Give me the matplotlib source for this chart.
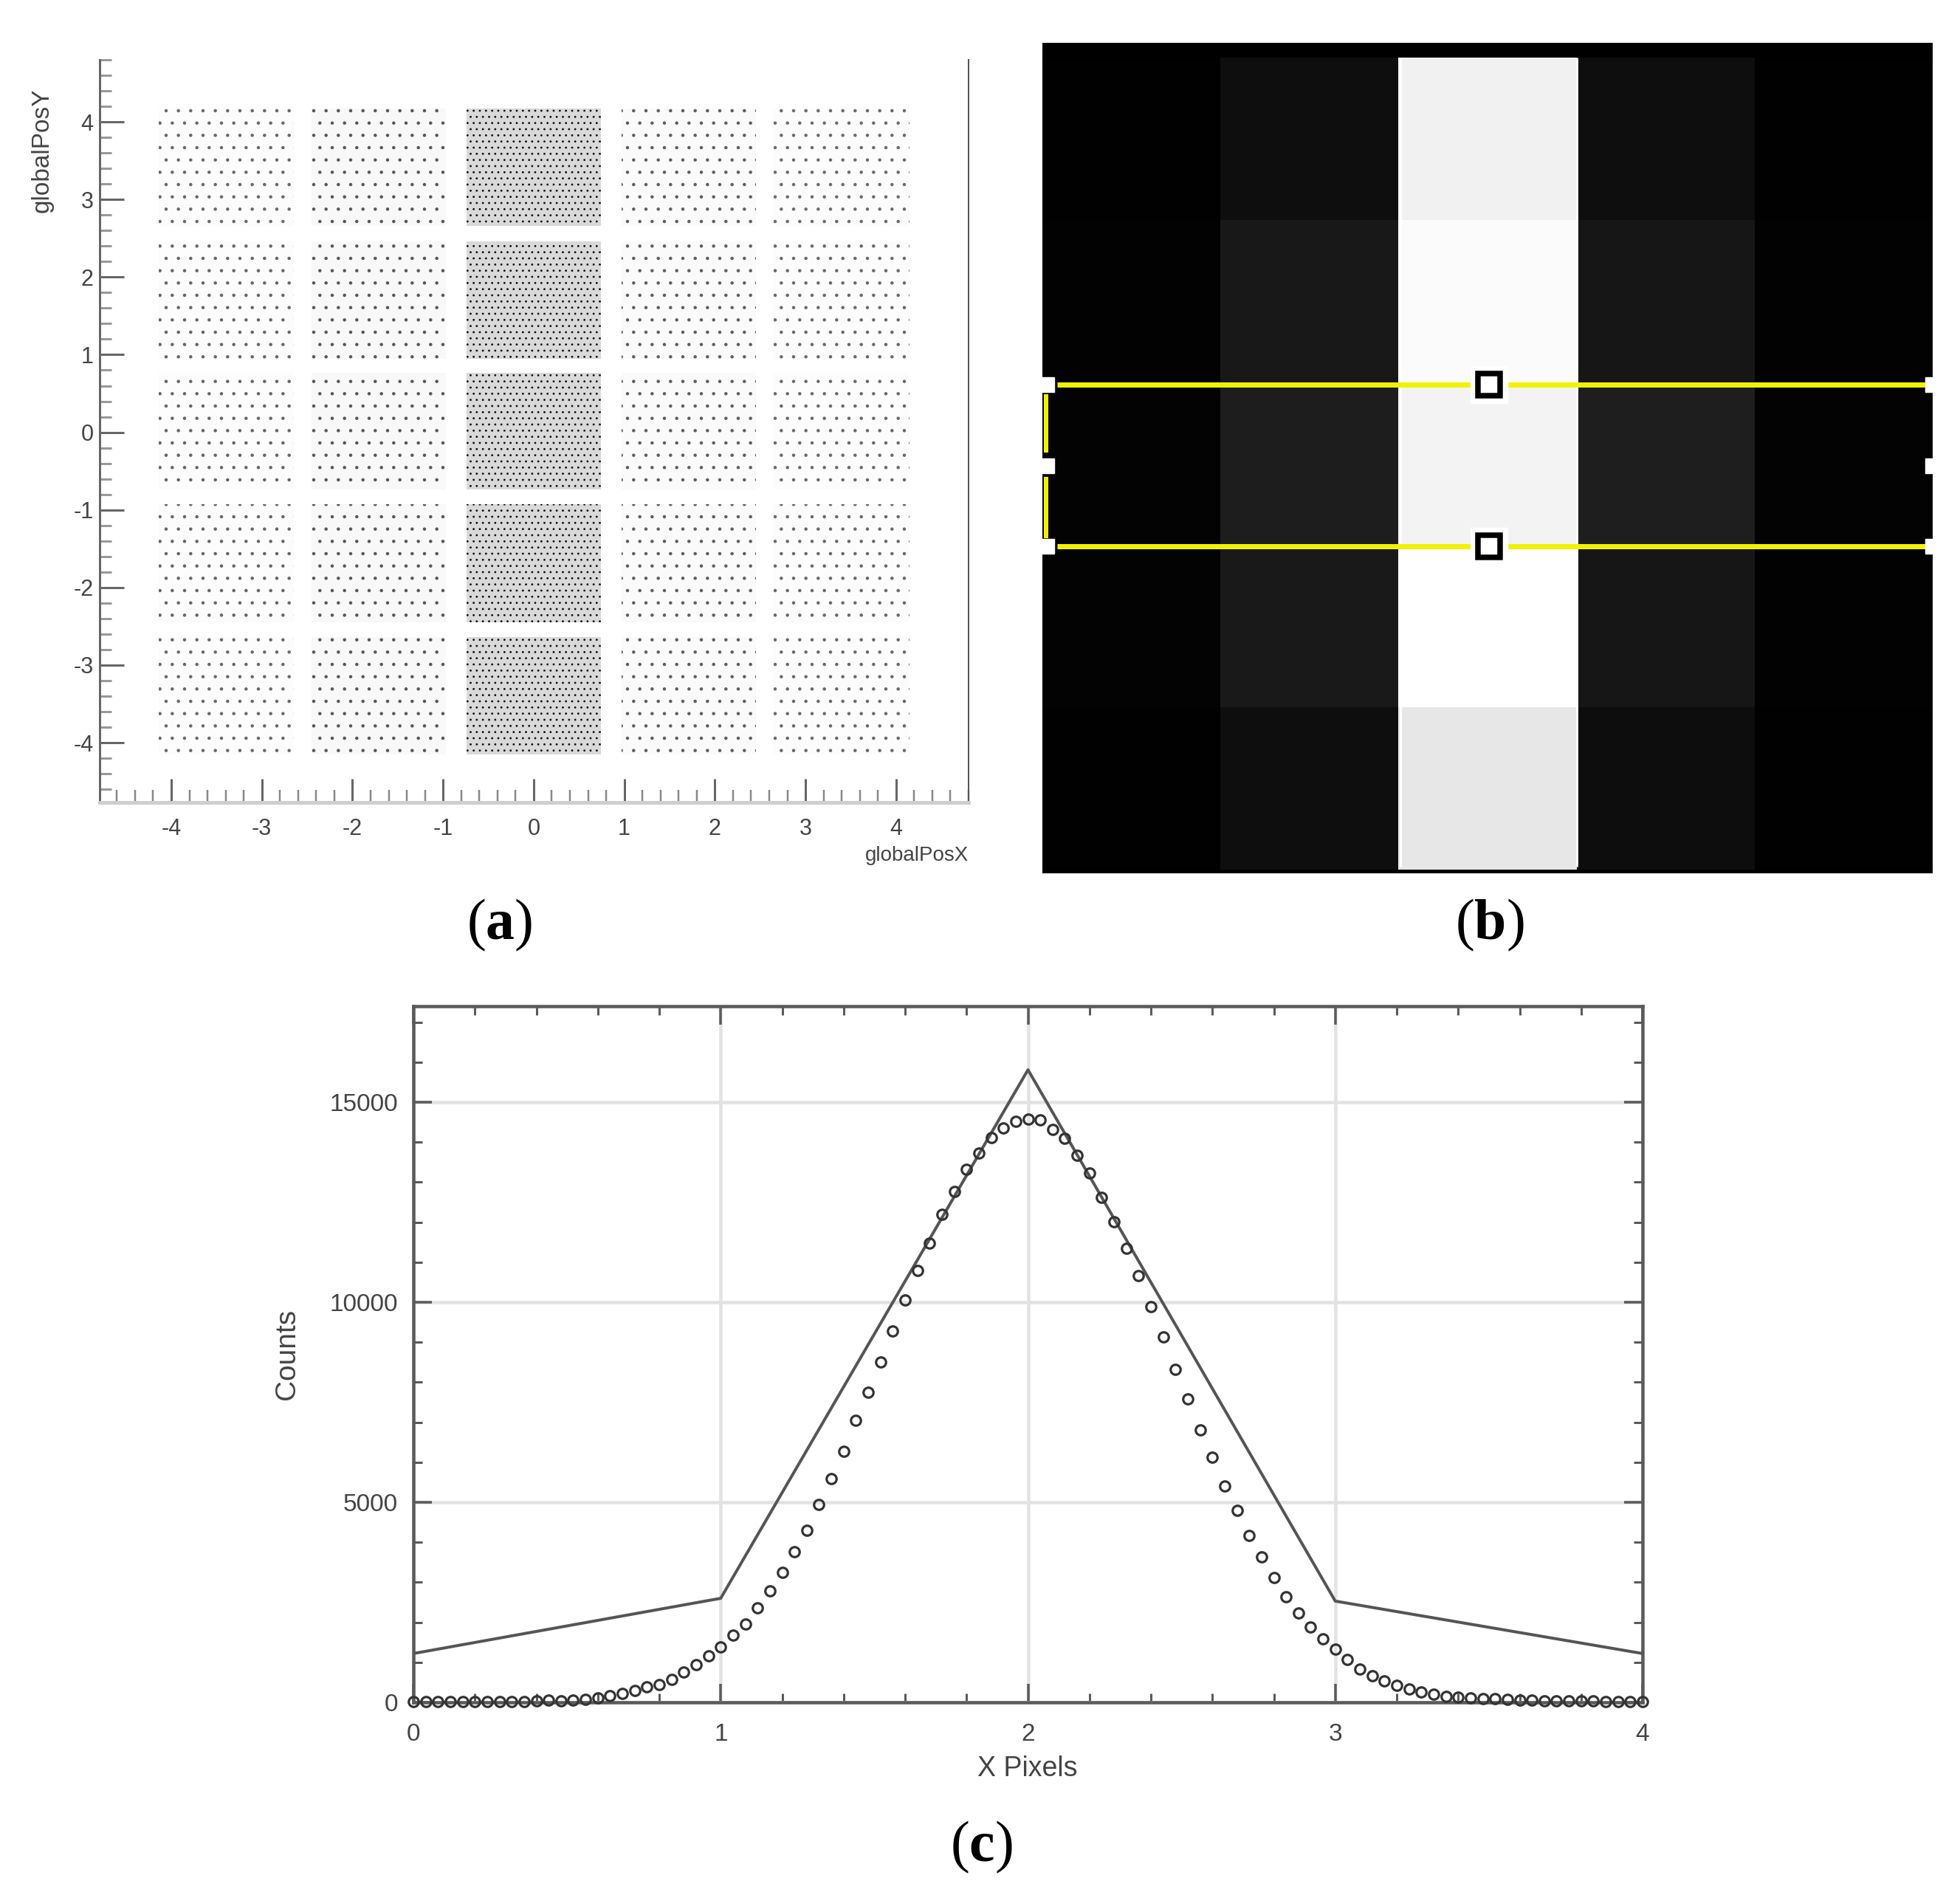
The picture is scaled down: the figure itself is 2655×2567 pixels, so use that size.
import numpy as np
import matplotlib
matplotlib.use("Agg")
import matplotlib.pyplot as plt
from matplotlib.patches import Rectangle
from matplotlib.ticker import MultipleLocator

plt.rcParams['font.family'] = ['Liberation Sans', 'DejaVu Sans']
plt.rcParams['axes.unicode_minus'] = False
plt.rcParams['mathtext.fontset'] = 'custom'
plt.rcParams['mathtext.rm'] = 'Liberation Serif'
plt.rcParams['mathtext.bf'] = 'Liberation Serif:bold'
plt.rcParams['hatch.linewidth'] = 0.8

# ---- data ----
# (a) detector tiles: edges and relative hit density per tile (top row first)
tile_x_low = [-4.14, -2.45, -0.74, 0.97, 2.65]
tile_x_high = [-2.65, -0.97, 0.74, 2.45, 4.15]
tile_y_low = [2.66, 0.95, -0.74, -2.45, -4.15]
tile_y_high = [4.17, 2.46, 0.77, -0.93, -2.64]
tile_density = [
    [0.28, 0.42, 1.00, 0.36, 0.26],
    [0.30, 0.42, 1.00, 0.36, 0.28],
    [0.30, 0.42, 1.00, 0.36, 0.28],
    [0.30, 0.42, 1.00, 0.36, 0.28],
    [0.28, 0.42, 1.00, 0.36, 0.28],
]
a_ticks = [-4, -3, -2, -1, 0, 1, 2, 3, 4]
a_ticklabels = ['-4', '-3', '-2', '-1', '0', '1', '2', '3', '4']

# (b) pixel intensities
b_pixels = [
    [1, 14, 241, 14, 1],
    [2, 24, 251, 22, 2],
    [3, 29, 243, 30, 3],
    [3, 25, 255, 22, 2],
    [1, 14, 231, 13, 1],
]
roi_rows = [2.014, 3.01]

# (c) line profile and fitted points
line_x = [0, 1, 2, 3, 4]
line_y = [1220, 2600, 15810, 2530, 1220]
pts_x = [0.00, 0.04, 0.08, 0.12, 0.16, 0.20, 0.24, 0.28, 0.32, 0.36, 0.40, 0.44, 0.48, 0.52, 0.56,
         0.60, 0.64, 0.68, 0.72, 0.76, 0.80, 0.84, 0.88, 0.92, 0.96, 1.00, 1.04, 1.08, 1.12, 1.16,
         1.20, 1.24, 1.28, 1.32, 1.36, 1.40, 1.44, 1.48, 1.52, 1.56, 1.60, 1.64, 1.68, 1.72, 1.76,
         1.80, 1.84, 1.88, 1.92, 1.96, 2.00, 2.04, 2.08, 2.12, 2.16, 2.20, 2.24, 2.28, 2.32, 2.36,
         2.40, 2.44, 2.48, 2.52, 2.56, 2.60, 2.64, 2.68, 2.72, 2.76, 2.80, 2.84, 2.88, 2.92, 2.96,
         3.00, 3.04, 3.08, 3.12, 3.16, 3.20, 3.24, 3.28, 3.32, 3.36, 3.40, 3.44, 3.48, 3.52, 3.56,
         3.60, 3.64, 3.68, 3.72, 3.76, 3.80, 3.84, 3.88, 3.92, 3.96, 4.00]
pts_y = [25, 25, 25, 25, 25, 25, 25, 25, 25, 25, 40, 50, 45, 50, 70,
         105, 165, 230, 290, 380, 445, 580, 755, 950, 1170, 1385, 1680, 1960, 2370, 2780,
         3245, 3770, 4295, 4940, 5590, 6280, 7045, 7750, 8500, 9290, 10060, 10800, 11485, 12200, 12760,
         13330, 13735, 14120, 14360, 14530, 14575, 14560, 14326, 14093, 13666, 13225, 12617, 12021, 11347, 10661,
         9883, 9132, 8329, 7578, 6813, 6127, 5415, 4793, 4171, 3627, 3122, 2642, 2228, 1878, 1593,
         1321, 1075, 829, 661, 544, 427, 337, 259, 194, 155, 130, 115, 100, 90, 70,
         60, 50, 40, 35, 30, 30, 30, 25, 25, 25, 20]
c_xticks = [0, 1, 2, 3, 4]
c_yticks = [0, 5000, 10000, 15000]

W, H = 2655, 2567
fig = plt.figure(figsize=(W / 100, H / 100), dpi=100, facecolor='white')


def box(l, t, r, b):
    return [l / W, 1 - b / H, (r - l) / W, (b - t) / H]


px = 0.72  # points per pixel

# ---------------- (a) ----------------
ax = fig.add_axes(box(135, 81, 1312, 1087))
ax.set_xlim(-4.79, 4.80)
ax.set_ylim(-4.77, 4.80)
for r, row in enumerate(tile_density):
    for c, d in enumerate(row):
        grey = 1 - 0.15 * d ** 2
        ink = 0.55 - 0.5 * d
        ax.add_patch(Rectangle((tile_x_low[c], tile_y_low[r]),
                               tile_x_high[c] - tile_x_low[c],
                               tile_y_high[r] - tile_y_low[r],
                               facecolor=(grey, grey, grey),
                               edgecolor=(ink, ink, ink), linewidth=0,
                               hatch='..' if d > 0.7 else '.'))
ax.spines['top'].set_visible(False)
ax.spines['left'].set_color('#666666')
ax.spines['left'].set_linewidth(3 * px)
ax.spines['right'].set_color('#555555')
ax.spines['right'].set_linewidth(2 * px)
ax.spines['bottom'].set_color('#cfcfcf')
ax.spines['bottom'].set_linewidth(5 * px)
ax.set_xticks(a_ticks)
ax.set_xticklabels(a_ticklabels)
ax.set_yticks(a_ticks)
ax.set_yticklabels(a_ticklabels)
ax.xaxis.set_minor_locator(MultipleLocator(0.2))
ax.yaxis.set_minor_locator(MultipleLocator(0.2))
ax.tick_params(axis='both', which='major', direction='in', labelsize=22, labelcolor='#444444',
               color='#666666', width=3 * px)
ax.tick_params(axis='x', which='major', length=32 * px, pad=15)
ax.tick_params(axis='y', which='major', length=33 * px, pad=6)
ax.tick_params(axis='x', which='minor', direction='in', length=17 * px, width=2.5 * px, color='#888888')
ax.tick_params(axis='y', which='minor', direction='in', length=16 * px, width=3 * px, color='#999999')
fig.text(1312 / W, 1 - 1159 / H, 'globalPosX', ha='right', va='center', fontsize=20, color='#444444')
fig.text(57 / W, 1 - 204 / H, 'globalPosY', ha='center', va='center', rotation=90, fontsize=24, color='#444444')

# ---------------- (b) ----------------
bx = fig.add_axes(box(1412, 58, 2618, 1183))
bx.set_facecolor('black')
bx.pcolormesh(np.arange(6), np.arange(6), np.array(b_pixels), cmap='gray', vmin=0, vmax=255)
bx.set_xlim(0, 5)
bx.set_ylim(5.023, -0.092)
bx.set_xticks([])
bx.set_yticks([])
for s in bx.spines.values():
    s.set_visible(False)
bx.vlines([2.01, 3.0], 0, 4.98, color='white', linewidth=3 * px, zorder=2)
bx.hlines(roi_rows, 0.084, 5, color='#f2f200', linewidth=7 * px, zorder=3)
bx.vlines([0.02, 0.02], [2.07, 2.58], [2.43, 2.96], color='#f2f200', linewidth=6 * px, zorder=3)
handles_y = [roi_rows[0], (roi_rows[0] + roi_rows[1]) / 2, roi_rows[1]]
bx.plot([0.025] * 3, handles_y, ls='none', marker='s', ms=20 * px, mfc='white', mec='white', zorder=4)
bx.plot([5.0] * 3, handles_y, ls='none', marker='s', ms=20 * px, mfc='white', mec='white', zorder=4)
bx.plot([2.507] * 2, roi_rows, ls='none', marker='s', ms=50 * px, mfc='white', mec='white', zorder=4)
bx.plot([2.507] * 2, roi_rows, ls='none', marker='s', ms=30 * px, mfc='white', mec='black',
        mew=7.5 * px, zorder=5)

# ---------------- (c) ----------------
cx = fig.add_axes(box(560, 1363, 2225, 2306))
cx.set_xlim(0, 4)
cx.set_ylim(0, 17400)
cx.grid(True, which='major', color='#e2e2e2', linewidth=4.5 * px)
cx.set_axisbelow(True)
cx.plot(line_x, line_y, color='#555555', linewidth=4 * px, zorder=3)
cx.plot(pts_x, pts_y, ls='none', marker='o', ms=13.5 * px, mfc='none', mec='#333333', mew=3.2 * px,
        zorder=4, clip_on=False)
for s in cx.spines.values():
    s.set_color('#5a5a5a')
    s.set_linewidth(4.5 * px)
cx.set_xticks(c_xticks)
cx.set_yticks(c_yticks)
cx.xaxis.set_minor_locator(MultipleLocator(0.2))
cx.yaxis.set_minor_locator(MultipleLocator(1000))
cx.tick_params(axis='both', which='major', direction='in', top=True, right=True, length=25 * px,
               width=3.5 * px, color='#5a5a5a', labelcolor='#444444', labelsize=24)
cx.tick_params(axis='x', which='major', pad=20)
cx.tick_params(axis='y', which='major', pad=15)
cx.tick_params(axis='both', which='minor', direction='in', top=True, right=True, length=12 * px,
               width=3 * px, color='#5a5a5a')
fig.text(1392 / W, 1 - 2396 / H, 'X Pixels', ha='center', va='center', fontsize=27, color='#444444')
fig.text(389 / W, 1 - 1834 / H, 'Counts', ha='center', va='center', rotation=90, fontsize=28, color='#444444')

# ---------------- panel letters ----------------
for label, xp, yp in [('a', 677, 1253), ('b', 2018, 1253), ('c', 1329, 2502)]:
    fig.text(xp / W, 1 - yp / H, r'$\mathrm{(}\mathbf{' + label + r'}\mathrm{)}$', ha='center', va='center',
             fontsize=56, color='black')

fig.savefig('out.png', dpi=100, facecolor='white')
